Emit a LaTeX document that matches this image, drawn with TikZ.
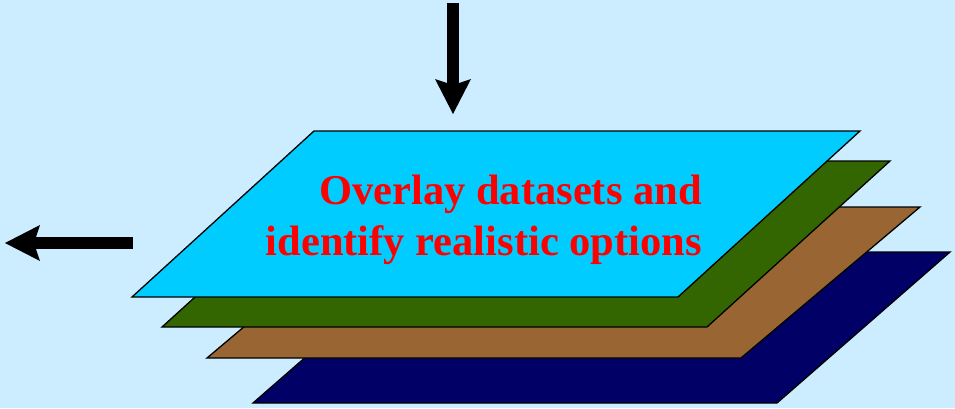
\documentclass[tikz,border=0pt]{standalone}
\usepackage{fontspec}
\setmainfont{Liberation Serif}
\usetikzlibrary{arrows.meta, calc}
\definecolor{sky}{HTML}{CCECFF}
\definecolor{cyanlayer}{HTML}{00CCFF}
\definecolor{greenlayer}{HTML}{336600}
\definecolor{brownlayer}{HTML}{996633}
\definecolor{navylayer}{HTML}{000066}
\tikzset{
    pics/layer/.style n args = {4}{
        code = {%
        \coordinate (-sw) at (0,0);
        \coordinate (-se) at (#1,0);
        \coordinate (-ne) at (#1+#3,-#2);
        \coordinate (-nw) at (#3,-#2);
        \draw[line width=1.3pt, fill=#4] (-sw) -- (-se) -- (-ne) -- (-nw) -- cycle;
        }
    },
    bigarrow/.style = {line width=12pt,
        -{Stealth[length=35pt, width=36pt, inset=6pt, line width'=0pt]}},
    caption/.style = {text=red, font=\bfseries\fontsize{42.5}{51}\selectfont,
        anchor=base east, inner sep=0pt},
}

\begin{document}
\begin{tikzpicture}[x=1pt, y=-1pt]
\fill[sky] (0,0) rectangle (955,408);
\useasboundingbox (0,0) rectangle (955,408);

% stack of data layers, bottom first
\pic(n) at (253,403) {layer={524}{151}{173}{navylayer}};
\pic(b) at (207,358) {layer={534}{151}{179}{brownlayer}};
\pic(g) at (162,327) {layer={545}{166}{183}{greenlayer}};
\pic(c) at (132,297) {layer={546}{166}{182}{cyanlayer}};

\node[caption] (l1) at (702,204) {Overlay datasets and};
\node[caption] (l2) at (702,255) {identify realistic options};

% input and output
\coordinate (src) at (453,3);
\coordinate (feed) at (453,114);
\draw[bigarrow] (src) -- (feed);

\coordinate (out) at (133,243);
\coordinate (res) at (5,243);
\draw[bigarrow] (out) -- (res);
\end{tikzpicture}
\end{document}
